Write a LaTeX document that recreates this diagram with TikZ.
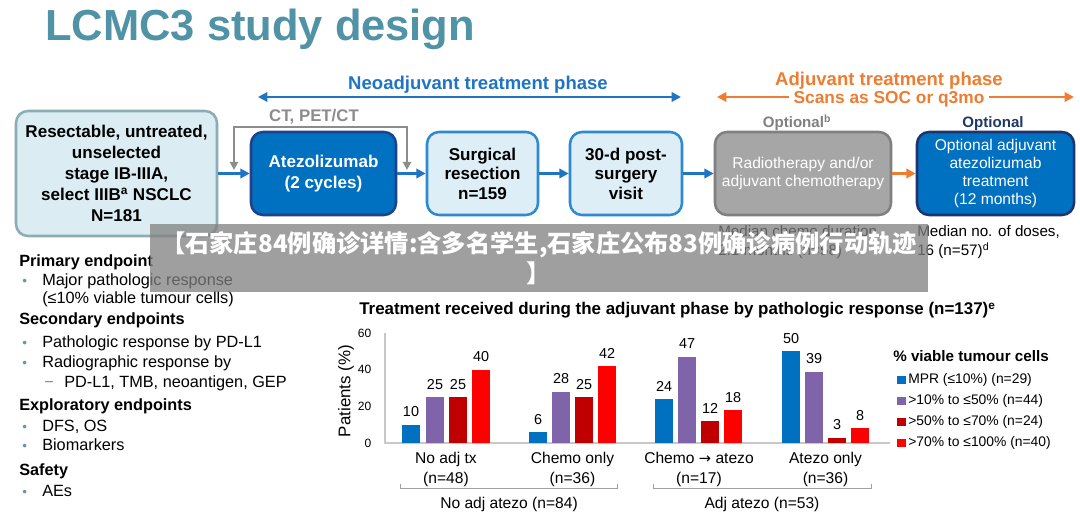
\documentclass[tikz,border=0pt]{standalone}
\usepackage{fontspec}
\setmainfont{Liberation Sans}
\newfontfamily\cjk{Noto Sans CJK SC}
\newfontfamily\dejavu{DejaVu Sans}
\usetikzlibrary{arrows.meta}
\definecolor{titleteal}{RGB}{80,146,166}
\definecolor{arrowblue}{RGB}{31,116,196}
\definecolor{phaseorange}{RGB}{237,125,49}
\definecolor{loopgray}{RGB}{140,140,140}
\definecolor{bonefill}{RGB}{219,236,242}
\definecolor{boneborder}{RGB}{140,172,182}
\definecolor{atezofill}{RGB}{0,112,192}
\definecolor{atezoborder}{RGB}{30,66,140}
\definecolor{lightfill}{RGB}{221,238,246}
\definecolor{lightborder}{RGB}{46,138,208}
\definecolor{grayfill}{RGB}{166,166,166}
\definecolor{grayborder}{RGB}{128,128,128}
\definecolor{navyborder}{RGB}{31,52,110}
\definecolor{navytext}{RGB}{31,56,100}
\definecolor{optgray}{RGB}{128,128,128}
\definecolor{bulletteal}{RGB}{100,150,165}
\definecolor{cmpr}{RGB}{0,112,192}
\definecolor{cpurple}{RGB}{128,100,170}
\definecolor{cdred}{RGB}{192,0,0}
\definecolor{cred}{RGB}{255,0,0}
\definecolor{axisgray}{RGB}{200,200,200}
\definecolor{bracketgray}{RGB}{160,160,160}
\definecolor{bannergray}{RGB}{128,128,128}
\begin{document}
\begin{tikzpicture}[x=0.75pt,y=-0.75pt,
  box/.style={rounded corners=9pt, line width=1.9pt, align=center, inner sep=0pt, minimum height=62.25pt},
  flow/.style={-{Triangle[length=7pt,width=7pt]}, line width=2pt, draw=arrowblue},
  oflow/.style={-{Triangle[length=7pt,width=7pt]}, line width=2pt, draw=phaseorange},
  loopline/.style={{Triangle[length=6pt,width=6pt]}-{Triangle[length=6pt,width=6pt]}, line width=1.8pt, draw=loopgray},
  ep/.style={anchor=base west, font=\fontsize{12.2}{14}\selectfont},
  eph/.style={anchor=base west, font=\fontsize{12.2}{14}\selectfont\bfseries},
  bul/.style={anchor=base west, text=bulletteal, font=\fontsize{10}{12}\selectfont},
  tick/.style={anchor=east, font=\fontsize{9}{11}\selectfont},
  val/.style={anchor=base, font=\fontsize{10.8}{12}\selectfont},
  cat/.style={anchor=base, font=\fontsize{11.7}{13}\selectfont},
  leg/.style={anchor=base west, font=\fontsize{10.4}{12}\selectfont}
]
\useasboundingbox (0,0) rectangle (1080,516);
\fill[white] (0,0) rectangle (1080,516);

% title
\node[anchor=base west, inner sep=0pt, text=titleteal, font=\fontsize{32.6}{38}\selectfont\bfseries] (title) at (45,41) {LCMC3 study design};

% phase headers
\node[anchor=base, inner sep=0pt, text=arrowblue, font=\fontsize{13.9}{16}\selectfont\bfseries] (neo) at (478,90) {Neoadjuvant treatment phase};
\coordinate (neoL) at (258,97);
\coordinate (neoR) at (681,97);
\draw[line width=1.6pt, draw=arrowblue, {Triangle[length=7pt,width=7pt]}-{Triangle[length=7pt,width=7pt]}] (neoL) -- (neoR);

\node[anchor=base, inner sep=0pt, text=phaseorange, font=\fontsize{13.9}{16}\selectfont\bfseries] (adj) at (889,86) {Adjuvant treatment phase};
\node[anchor=base, inner sep=0pt, text=phaseorange, font=\fontsize{13}{16}\selectfont\bfseries] (scans) at (889,104) {Scans as SOC or q3mo};
\coordinate (adjL) at (717,97);
\coordinate (adjLi) at (789,97);
\coordinate (adjRi) at (989,97);
\coordinate (adjR) at (1074,97);
\draw[oflow, line width=1.6pt] (adjLi) -- (adjL);
\draw[oflow, line width=1.6pt] (adjRi) -- (adjR);

% boxes
\node[box, draw=boneborder, fill=bonefill, minimum width=150.75pt, minimum height=93.75pt, font=\fontsize{12.8}{15.6}\selectfont\bfseries] (b1) at (116.5,173.5)
  {Resectable, untreated,\\unselected\\stage IB-IIIA,\\select IIIB\textsuperscript{a} NSCLC\\N=181};
\node[box, draw=atezoborder, fill=atezofill, text=white, minimum width=108.75pt, font=\fontsize{12.8}{15.4}\selectfont\bfseries] (atezo) at (323.5,173.5)
  {Atezolizumab\\(2 cycles)};
\node[box, draw=lightborder, fill=lightfill, minimum width=83.25pt, font=\fontsize{12.8}{14.6}\selectfont\bfseries] (surg) at (482.5,173.5)
  {Surgical\\resection\\n=159};
\node[box, draw=lightborder, fill=lightfill, minimum width=84pt, font=\fontsize{12.8}{14.6}\selectfont\bfseries] (post) at (626,173.5)
  {30-d post-\\surgery\\visit};
\node[box, draw=grayborder, fill=grayfill, text=white, minimum width=132pt, font=\fontsize{11.7}{13.5}\selectfont] (chemo) at (803,173.5)
  {Radiotherapy and/or\\adjuvant chemotherapy};
\node[box, draw=navyborder, fill=atezofill, text=white, minimum width=117.75pt, font=\fontsize{11.7}{13.7}\selectfont] (adjatezo) at (995.5,173.5)
  {Optional adjuvant\\atezolizumab\\treatment\\(12 months)};

% labels above / below boxes
\node[anchor=base, inner sep=0pt, text=loopgray, font=\fontsize{12.6}{15}\selectfont\bfseries] (ctlab) at (314,122) {CT, PET/CT};
\node[anchor=base, inner sep=0pt, text=optgray, font=\fontsize{11.3}{13}\selectfont\bfseries] (optb) at (797,128) {Optional\textsuperscript{b}};
\node[anchor=base, inner sep=0pt, text=navytext, font=\fontsize{11.3}{13}\selectfont\bfseries] (opt) at (993,128) {Optional};
\node[anchor=base west, inner sep=0pt, font=\fontsize{11.4}{13}\selectfont] (medc1) at (718,237) {Median chemo duration,};
\node[anchor=base west, inner sep=0pt, font=\fontsize{11.4}{13}\selectfont] (medc2) at (718,256) {2.1 months (n=58)};
\node[anchor=base west, inner sep=0pt, font=\fontsize{11.4}{13}\selectfont] (medd1) at (917,237) {Median no. of doses,};
\node[anchor=base west, inner sep=0pt, font=\fontsize{11.4}{13}\selectfont] (medd2) at (917,256) {16 (n=57)\textsuperscript{d}};

% connectors
\draw[flow] (b1) -- (atezo);
\draw[flow] (atezo) -- (surg);
\draw[flow] (surg) -- (post);
\draw[flow] (post) -- (chemo);
\draw[oflow] (chemo) -- (adjatezo);
\coordinate (loopA) at (234,170);
\coordinate (loopB) at (234,127);
\coordinate (loopC) at (407,127);
\coordinate (loopD) at (407,170);
\draw[loopline] (loopA) -- (loopB) -- (loopC) -- (loopD);

% endpoints
\node[eph, inner sep=0pt] (pe) at (19,267) {Primary endpoint};
\node[bul, inner sep=0pt] at (22,286) {\textbullet};
\node[ep, inner sep=0pt] at (42,286) {Major pathologic response};
\node[ep, inner sep=0pt] at (42,303) {(≤10\% viable tumour cells)};
\node[eph, inner sep=0pt] (se) at (19,325) {Secondary endpoints};
\node[bul, inner sep=0pt] at (22,347) {\textbullet};
\node[ep, inner sep=0pt] at (42,347) {Pathologic response by PD-L1};
\node[bul, inner sep=0pt] at (22,367) {\textbullet};
\node[ep, inner sep=0pt] at (42,367) {Radiographic response by};
\node[ep, inner sep=0pt, text=bulletteal] at (44,387) {−};
\node[ep, inner sep=0pt] at (64,387) {PD-L1, TMB, neoantigen, GEP};
\node[eph, inner sep=0pt] (ee) at (19,410) {Exploratory endpoints};
\node[bul, inner sep=0pt] at (22,431) {\textbullet};
\node[ep, inner sep=0pt] at (42,431) {DFS, OS};
\node[bul, inner sep=0pt] at (22,450) {\textbullet};
\node[ep, inner sep=0pt] at (42,450) {Biomarkers};
\node[eph, inner sep=0pt] (sa) at (19,475) {Safety};
\node[bul, inner sep=0pt] at (22,496) {\textbullet};
\node[ep, inner sep=0pt] at (42,496) {AEs};

% chart
\node[anchor=base west, inner sep=0pt, font=\fontsize{12.7}{14}\selectfont\bfseries] (ctitle) at (359,315)
  {Treatment received during the adjuvant phase by pathologic response (n=137)\textsuperscript{e}};
\draw[axisgray, line width=0.8pt] (385,333) -- (385,443) -- (890,443);
\foreach \v in {0,20,40,60} {
  \node[tick] at (376,{443-1.8333*\v}) {\v};
}
\node[rotate=90, font=\fontsize{12.7}{14}\selectfont] (ylab) at (346,391) {Patients (\%)};
\foreach \x/\v/\c in {402/10/cmpr,426/25/cpurple,449/25/cdred,472/40/cred,
                     529/6/cmpr,552/28/cpurple,575/25/cdred,598/42/cred,
                     655/24/cmpr,678/47/cpurple,701/12/cdred,724/18/cred,
                     782/50/cmpr,805/39/cpurple,828/3/cdred,851/8/cred} {
  \fill[\c] (\x,443) rectangle ({\x+18},{443-1.8333*\v});
  \node[val, inner sep=0pt] at ({\x+9},{443-1.8333*\v-8}) {\v};
}
\node[cat, inner sep=0pt] at (446,463) {No adj tx};
\node[cat, inner sep=0pt] at (446,483) {(n=48)};
\node[cat, inner sep=0pt] at (572.5,463) {Chemo only};
\node[cat, inner sep=0pt] at (572.5,483) {(n=36)};
\node[cat, inner sep=0pt] at (699,463) {Chemo {\dejavu\fontsize{11}{13}\selectfont →} atezo};
\node[cat, inner sep=0pt] at (699,483) {(n=17)};
\node[cat, inner sep=0pt] at (825.5,463) {Atezo only};
\node[cat, inner sep=0pt] at (825.5,483) {(n=36)};
\draw[bracketgray, line width=0.7pt] (400,484) -- (400,488) -- (617,488) -- (617,484);
\draw[bracketgray, line width=0.7pt] (653,484) -- (653,488) -- (871,488) -- (871,484);
\node[cat, inner sep=0pt] at (509,508) {No adj atezo (n=84)};
\node[cat, inner sep=0pt] at (762,508) {Adj atezo (n=53)};

% legend
\node[anchor=base west, inner sep=0pt, font=\fontsize{11.4}{13}\selectfont\bfseries] (legt) at (893,361) {\% viable tumour cells};
\foreach \yy/\c/\t in {383/cmpr/{MPR (≤10\%) (n=29)},404/cpurple/{>10\% to ≤50\% (n=44)},425/cdred/{>50\% to ≤70\% (n=24)},446/cred/{>70\% to ≤100\% (n=40)}} {
  \fill[\c] (897,{\yy-7.5}) rectangle (905.5,{\yy+0.5});
  \node[leg, inner sep=0pt] at (908,\yy) {\t};
}

% overlay banner
\node[fill=bannergray, fill opacity=0.75, text opacity=1, text=white, minimum width=583.5pt, minimum height=51pt, inner sep=0pt, align=center, font=\cjk\bfseries\fontsize{18.2}{22.5}\selectfont] (banner) at (539,258.5)
  {【石家庄84例确诊详情:含多名学生,石家庄公布83例确诊病例行动轨迹\\】};
\end{tikzpicture}
\end{document}
